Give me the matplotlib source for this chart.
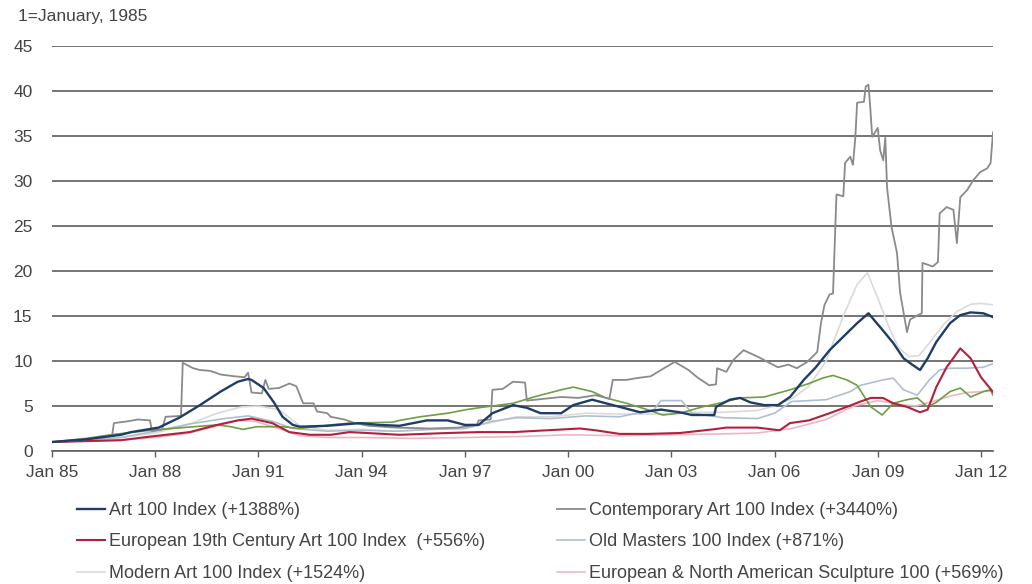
import matplotlib.pyplot as plt

plt.rcParams['font.family'] = ['Liberation Sans', 'DejaVu Sans']

# index values, 1 = January 1985
art100_t = [1985.0, 1986.0, 1987.0, 1987.3, 1988.1, 1988.7, 1989.3, 1989.9, 1990.4, 1990.7, 1990.8, 1991.15,
            1991.45, 1991.7, 1992.0, 1992.2, 1993.0, 1993.95, 1994.5, 1995.1, 1995.9, 1996.5, 1997.0, 1997.4,
            1997.8, 1998.4, 1998.8, 1999.2, 1999.8, 2000.15, 2000.7, 2001.3, 2002.1, 2002.7, 2003.25, 2003.6,
            2004.25, 2004.3, 2004.7, 2005.0, 2005.3, 2005.7, 2006.1, 2006.45, 2006.85, 2007.2, 2007.6, 2008.0,
            2008.4, 2008.73, 2009.15, 2009.45, 2009.75, 2010.0, 2010.23, 2010.45, 2010.7, 2011.1, 2011.4,
            2011.7, 2012.07, 2012.35]
art100_v = [1.0, 1.3, 1.8, 2.1, 2.6, 3.7, 5.1, 6.6, 7.7, 8.0, 7.9, 7.0,
            5.4, 3.8, 2.9, 2.7, 2.8, 3.1, 2.9, 2.8, 3.4, 3.4, 2.9, 2.9,
            4.2, 5.1, 4.8, 4.2, 4.2, 5.1, 5.7, 5.1, 4.3, 4.6, 4.3, 4.0,
            4.0, 4.9, 5.7, 5.9, 5.4, 5.1, 5.1, 6.0, 7.9, 9.3, 11.2, 12.7,
            14.2, 15.3, 13.4, 12.0, 10.3, 9.6, 9.0, 10.3, 12.1, 14.2, 15.1,
            15.4, 15.3, 14.88]

contemp_t = [1985.0, 1985.5, 1986.0, 1986.5, 1986.75, 1986.8, 1987.2, 1987.5, 1987.85, 1987.9, 1988.2, 1988.3,
             1988.75, 1988.8, 1989.1, 1989.3, 1989.6, 1989.9, 1990.3, 1990.6, 1990.7, 1990.8, 1991.1, 1991.2,
             1991.3, 1991.6, 1991.9, 1992.1, 1992.3, 1992.6, 1992.7, 1993.0, 1993.1, 1993.5, 1993.8, 1994.2,
             1995.0, 1996.0, 1996.8, 1997.35, 1997.4, 1997.75, 1997.8, 1998.1, 1998.4, 1998.75, 1998.8, 1999.3,
             1999.8, 2000.3, 2000.8, 2001.2, 2001.3, 2001.7, 2002.0, 2002.4, 2002.7, 2003.1, 2003.5, 2003.75,
             2004.1, 2004.3, 2004.33, 2004.6, 2004.8, 2005.1, 2005.5, 2005.8, 2006.1, 2006.4, 2006.65, 2006.95,
             2007.24, 2007.35, 2007.45, 2007.6, 2007.7, 2007.8, 2008.0, 2008.05, 2008.2, 2008.28, 2008.35,
             2008.4, 2008.6, 2008.65, 2008.73, 2008.78, 2008.84, 2009.0, 2009.07, 2009.16, 2009.22, 2009.27,
             2009.4, 2009.56, 2009.65, 2009.85, 2009.94, 2010.17, 2010.28, 2010.3, 2010.6, 2010.75, 2010.8,
             2011.0, 2011.2, 2011.3, 2011.4, 2011.6, 2011.78, 2011.98, 2012.18, 2012.28, 2012.35]
contemp_v = [1.0, 1.1, 1.3, 1.6, 1.8, 3.1, 3.3, 3.5, 3.4, 2.2, 2.4, 3.8,
             3.9, 9.8, 9.2, 9.0, 8.9, 8.5, 8.3, 8.2, 8.7, 6.5, 6.4, 7.9,
             6.9, 7.0, 7.5, 7.2, 5.3, 5.3, 4.4, 4.2, 3.8, 3.5, 3.1, 2.8,
             2.6, 2.5, 2.6, 2.9, 3.4, 3.5, 6.8, 6.9, 7.7, 7.6, 5.6, 5.8,
             6.0, 5.9, 6.2, 5.8, 7.9, 7.9, 8.1, 8.3, 9.0, 9.9, 9.0, 8.2,
             7.3, 7.4, 9.2, 8.8, 10.1, 11.2, 10.5, 9.9, 9.3, 9.6, 9.2, 9.9,
             11.0, 14.2, 16.2, 17.4, 17.5, 28.5, 28.3, 32.0, 32.7, 31.8, 34.9,
             38.7, 38.8, 40.5, 40.7, 38.3, 34.9, 35.9, 33.4, 32.3, 34.8, 29.3,
             24.9, 22.0, 17.6, 13.2, 14.6, 15.1, 15.3, 20.9, 20.5, 21.0, 26.4,
             27.1, 26.8, 23.1, 28.2, 29.0, 30.1, 31.0, 31.4, 32.0, 35.4]

euro19_t = [1985.0, 1986.0, 1987.0, 1987.85, 1989.0, 1989.8, 1990.4, 1990.8, 1991.4, 1991.9, 1992.5, 1993.1,
            1993.65, 1994.15, 1995.1, 1996.5, 1997.4, 1998.4, 2000.35, 2000.8, 2001.5, 2002.3, 2003.25, 2004.2,
            2004.6, 2005.5, 2006.15, 2006.45, 2007.0, 2007.6, 2008.1, 2008.5, 2008.8, 2009.15, 2009.45, 2009.85,
            2010.23, 2010.45, 2010.7, 2011.0, 2011.4, 2011.7, 2012.0, 2012.35]
euro19_v = [1.0, 1.1, 1.2, 1.6, 2.1, 2.9, 3.4, 3.6, 3.1, 2.1, 1.8, 1.8,
            2.1, 2.0, 1.8, 2.0, 2.1, 2.1, 2.5, 2.3, 1.9, 1.9, 2.0, 2.4,
            2.6, 2.6, 2.3, 3.1, 3.4, 4.2, 4.9, 5.5, 5.9, 5.9, 5.3, 4.9,
            4.3, 4.6, 7.1, 9.3, 11.4, 10.3, 8.2, 6.56]

masters_t = [1985.0, 1986.0, 1987.0, 1988.0, 1989.0, 1990.0, 1990.7, 1991.4, 1992.0, 1993.0, 1994.0, 1995.0,
             1996.0, 1997.0, 1997.8, 1998.5, 1999.5, 2000.5, 2001.5, 2002.5, 2002.7, 2003.3, 2003.6, 2004.5,
             2005.5, 2006.0, 2006.5, 2007.5, 2008.2, 2008.5, 2009.15, 2009.45, 2009.75, 2010.15, 2010.5, 2010.8,
             2011.1, 2011.6, 2012.07, 2012.35]
masters_v = [1.0, 1.2, 1.5, 2.2, 3.0, 3.6, 3.9, 3.3, 2.5, 2.2, 2.3, 2.2,
             2.4, 2.5, 3.3, 3.7, 3.6, 3.9, 3.8, 4.6, 5.6, 5.6, 4.2, 3.7,
             3.6, 4.2, 5.5, 5.7, 6.6, 7.3, 7.9, 8.1, 6.8, 6.2, 7.9, 9.0,
             9.2, 9.2, 9.3, 9.71]

modern_t = [1985.0, 1986.0, 1987.0, 1988.0, 1989.0, 1989.8, 1990.5, 1991.0, 1991.6, 1992.2, 1993.0, 1994.0,
            1995.0, 1996.0, 1997.0, 1997.8, 1998.5, 1999.5, 2000.5, 2001.5, 2002.5, 2003.5, 2004.5, 2005.5,
            2006.0, 2006.5, 2007.0, 2007.5, 2008.0, 2008.4, 2008.7, 2009.0, 2009.3, 2009.6, 2009.9, 2010.2,
            2010.5, 2010.9, 2011.3, 2011.7, 2012.0, 2012.35]
modern_v = [1.0, 1.2, 1.5, 2.0, 3.0, 4.2, 4.9, 5.0, 4.6, 2.8, 2.3, 2.4,
            2.2, 2.4, 2.5, 3.2, 3.8, 3.8, 4.2, 4.1, 4.1, 4.3, 4.3, 4.5,
            5.0, 5.8, 7.2, 10.0, 15.0, 18.5, 19.8, 17.0, 14.0, 11.5, 10.5, 10.6,
            12.0, 14.0, 15.5, 16.3, 16.4, 16.24]

sculpt_t = [1985.0, 1986.0, 1987.0, 1988.0, 1989.0, 1989.8, 1990.4, 1990.9, 1991.5, 1992.2, 1993.0, 1994.0,
            1995.5, 1997.0, 1998.5, 2000.0, 2001.5, 2003.0, 2004.5, 2005.5, 2006.5, 2007.5, 2008.3, 2009.0,
            2009.6, 2010.1, 2010.6, 2011.1, 2011.6, 2012.0, 2012.35]
sculpt_v = [1.0, 1.1, 1.2, 1.5, 2.0, 2.8, 3.4, 3.3, 2.6, 1.7, 1.5, 1.5,
            1.4, 1.5, 1.6, 1.8, 1.7, 1.8, 1.9, 2.0, 2.5, 3.5, 5.0, 5.6,
            5.2, 5.0, 5.5, 6.1, 6.5, 6.6, 6.69]

# unlabelled comparison series (green)
other_t = [1985.0, 1986.0, 1986.7, 1987.85, 1988.8, 1989.8, 1990.2, 1990.55, 1990.95, 1991.7, 1992.2, 1993.1,
           1993.65, 1994.9, 1995.1, 1995.7, 1996.5, 1997.05, 1997.4, 1998.4, 1999.0, 1999.8, 2000.15, 2000.7,
           2001.1, 2001.7, 2002.3, 2002.75, 2003.25, 2003.9, 2004.5, 2005.0, 2005.7, 2006.45, 2007.0, 2007.4,
           2007.7, 2008.1, 2008.4, 2008.55, 2008.8, 2009.13, 2009.45, 2009.85, 2010.15, 2010.45, 2010.7,
           2011.1, 2011.4, 2011.7, 2012.07, 2012.27, 2012.35]
other_v = [1.0, 1.4, 1.8, 2.3, 2.6, 2.9, 2.7, 2.4, 2.7, 2.7, 2.5, 2.9,
           3.1, 3.2, 3.4, 3.8, 4.2, 4.6, 4.8, 5.3, 6.0, 6.8, 7.1, 6.6,
           5.9, 5.3, 4.6, 4.0, 4.2, 4.9, 5.4, 5.9, 6.0, 6.8, 7.5, 8.1,
           8.4, 7.9, 7.3, 6.4, 4.9, 4.0, 5.3, 5.7, 5.9, 4.9, 5.4,
           6.6, 7.0, 6.0, 6.6, 6.8, 6.2]

years = [1985, 1988, 1991, 1994, 1997, 2000, 2003, 2006, 2009, 2012]
year_labels = ['Jan 85', 'Jan 88', 'Jan 91', 'Jan 94', 'Jan 97', 'Jan 00', 'Jan 03', 'Jan 06', 'Jan 09', 'Jan 12']

fig = plt.figure(figsize=(10.32, 5.84), dpi=100)
ax = fig.add_axes([52 / 1032, 1 - 451 / 584, (993 - 52) / 1032, (451 - 46) / 584])

l_mod, = ax.plot(modern_t, modern_v, color='#dadada', lw=1.2)
l_scu, = ax.plot(sculpt_t, sculpt_v, color='#eeb6c3', lw=1.2)
l_old, = ax.plot(masters_t, masters_v, color='#aec0cf', lw=1.2)
ax.plot(other_t, other_v, color='#6f9e44', lw=1.2)
l_eur, = ax.plot(euro19_t, euro19_v, color='#b3203c', lw=1.5)
l_con, = ax.plot(contemp_t, contemp_v, color='#8a8a8a', lw=1.3)
l_art, = ax.plot(art100_t, art100_v, color='#1f3d66', lw=1.7)

ax.set_xlim(1985, 2012.35)
ax.set_ylim(0, 45)
ax.set_yticks(range(0, 46, 5))
ax.set_xticks(years)
ax.set_xticklabels(year_labels)
ax.grid(axis='y', color='#5e5e5e', lw=1.2)
ax.set_axisbelow(True)
for s in ['top', 'right', 'left']:
    ax.spines[s].set_visible(False)
ax.spines['bottom'].set_color('#5e5e5e')
ax.spines['bottom'].set_linewidth(1.2)
ax.tick_params(axis='y', length=0, pad=14, labelsize=12.5, labelcolor='#444444')
ax.tick_params(axis='x', length=4, width=1, color='#5e5e5e', pad=6, labelsize=12.5, labelcolor='#444444')

fig.text(18 / 1032, 1 - 16 / 584, '1=January, 1985', fontsize=12.5, color='#444444', va='center')

leg_kw = dict(frameon=False, fontsize=13, handlelength=1.55, handletextpad=0.2,
              labelspacing=0.8, borderpad=0, borderaxespad=0, loc='upper left', labelcolor='#444444')
leg1 = fig.legend([l_art, l_eur, l_mod],
                  ['Art 100 Index (+1388%)', 'European 19th Century Art 100 Index  (+556%)',
                   'Modern Art 100 Index (+1524%)'],
                  bbox_to_anchor=(77 / 1032, 1 - 502 / 584), **leg_kw)
leg2 = fig.legend([l_con, l_old, l_scu],
                  ['Contemporary Art 100 Index (+3440%)', 'Old Masters 100 Index (+871%)',
                   'European & North American Sculpture 100 (+569%)'],
                  bbox_to_anchor=(557 / 1032, 1 - 502 / 584), **leg_kw)

fig.savefig('out.png', dpi=100, facecolor='white')
